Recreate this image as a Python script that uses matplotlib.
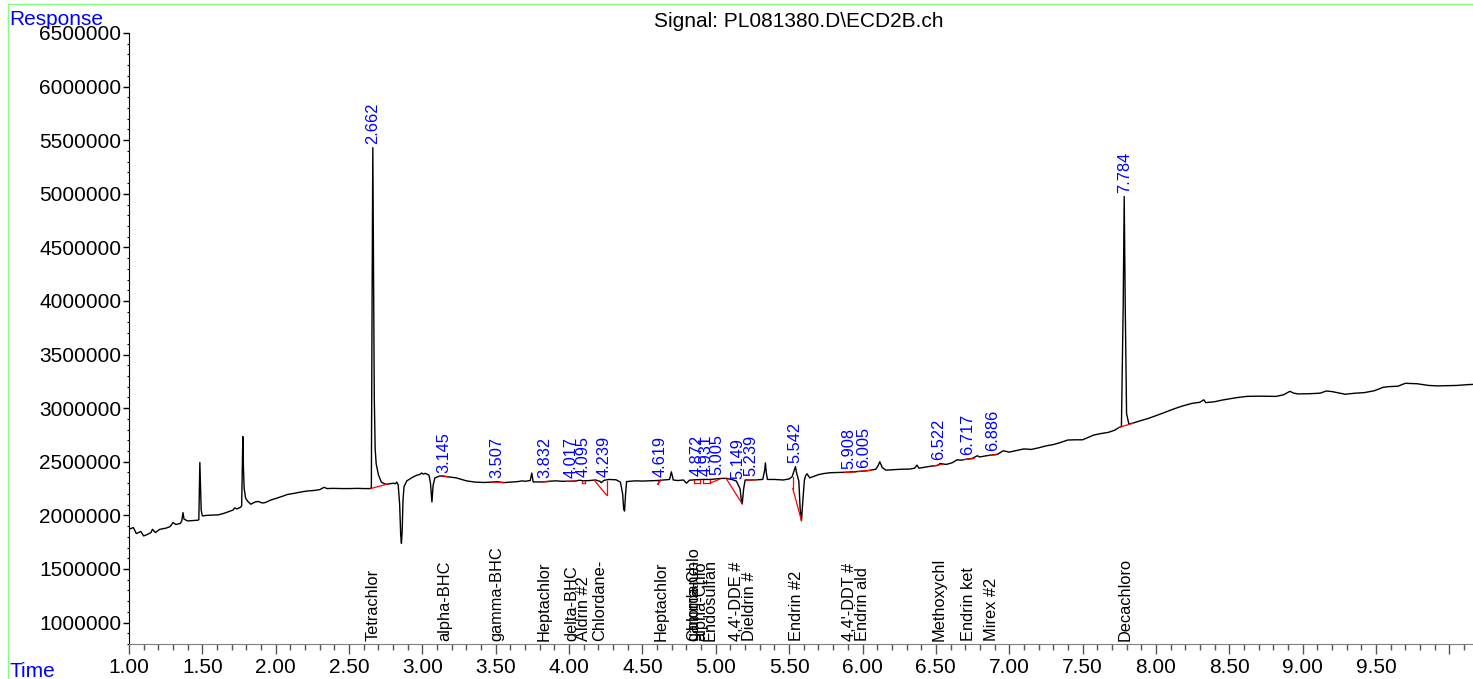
import numpy as np
import matplotlib
matplotlib.use("Agg")
import matplotlib.pyplot as plt
from matplotlib.ticker import MultipleLocator, FixedLocator, FuncFormatter
from matplotlib.lines import Line2D
import matplotlib.transforms as mtransforms

plt.rcParams['font.family'] = ['Liberation Sans', 'DejaVu Sans']

# chromatogram trace (time in min, response)
time_pts = [1.00, 1.03, 1.05, 1.08, 1.10, 1.13, 1.15, 1.16, 1.18, 1.21, 1.25, 1.28, 1.30, 1.32, 1.35, 1.36,
            1.368, 1.375, 1.40, 1.44, 1.47, 1.476, 1.480, 1.483, 1.487, 1.492, 1.50, 1.53, 1.57, 1.61, 1.65,
            1.68, 1.71, 1.72, 1.735, 1.76, 1.768, 1.772, 1.776, 1.780, 1.785, 1.795, 1.81, 1.83, 1.86, 1.88,
            1.91, 1.93, 1.97, 2.00, 2.05, 2.08, 2.12, 2.18, 2.22, 2.26, 2.30, 2.33, 2.35, 2.39, 2.45, 2.50,
            2.56, 2.60, 2.645, 2.652, 2.657, 2.662, 2.667, 2.672, 2.678, 2.685, 2.70, 2.72, 2.75, 2.78, 2.80,
            2.815, 2.825, 2.835, 2.845, 2.852, 2.857, 2.862, 2.868, 2.875, 2.894, 2.93, 2.962, 2.98, 2.995,
            3.005, 3.02, 3.045, 3.055, 3.065, 3.073, 3.085, 3.12, 3.16, 3.23, 3.30, 3.36, 3.417, 3.47, 3.51,
            3.55, 3.60, 3.65, 3.68, 3.70, 3.735, 3.746, 3.755, 3.78, 3.82, 3.86, 3.91, 3.95, 4.00, 4.04, 4.07,
            4.10, 4.14, 4.18, 4.21, 4.22, 4.235, 4.25, 4.27, 4.32, 4.35, 4.365, 4.372, 4.378, 4.385, 4.392,
            4.43, 4.46, 4.50, 4.55, 4.60, 4.64, 4.685, 4.697, 4.71, 4.74, 4.78, 4.80, 4.82, 4.86, 4.91, 4.96,
            5.00, 5.04, 5.07, 5.11, 5.14, 5.165, 5.175, 5.18, 5.19, 5.20, 5.24, 5.28, 5.32, 5.333, 5.338,
            5.344, 5.352, 5.40, 5.46, 5.50, 5.52, 5.535, 5.543, 5.55, 5.566, 5.575, 5.584, 5.594, 5.604,
            5.612, 5.622, 5.64, 5.70, 5.735, 5.78, 5.83, 5.88, 5.92, 5.98, 6.03, 6.07, 6.09, 6.105, 6.118,
            6.135, 6.16, 6.20, 6.26, 6.32, 6.355, 6.371, 6.385, 6.42, 6.48, 6.51, 6.53, 6.57, 6.61, 6.646,
            6.67, 6.70, 6.75, 6.782, 6.80, 6.84, 6.89, 6.92, 6.96, 7.00, 7.05, 7.10, 7.15, 7.20, 7.253, 7.30,
            7.35, 7.40, 7.45, 7.50, 7.576, 7.62, 7.675, 7.72, 7.75, 7.765, 7.777, 7.784, 7.791, 7.80, 7.815,
            7.837, 7.90, 7.95, 8.00, 8.06, 8.12, 8.18, 8.247, 8.30, 8.326, 8.34, 8.40, 8.45, 8.496, 8.56,
            8.62, 8.70, 8.82, 8.87, 8.913, 8.94, 8.97, 9.05, 9.12, 9.16, 9.20, 9.29, 9.36, 9.42, 9.49, 9.55,
            9.59, 9.65, 9.70, 9.78, 9.86, 9.92, 9.98, 10.05, 10.13, 10.17]
resp_pts = [1871000, 1886000, 1830000, 1850000, 1808000, 1825000, 1840000, 1870000, 1840000, 1870000,
            1880000, 1895000, 1933000, 1915000, 1925000, 1950000, 2026000, 1965000, 1948000, 1952000,
            1955000, 1960000, 2300000, 2493000, 2300000, 2050000, 1995000, 2000000, 2003000, 2005000,
            2020000, 2035000, 2050000, 2070000, 2060000, 2075000, 2090000, 2400000, 2735000, 2450000,
            2250000, 2160000, 2130000, 2104000, 2125000, 2130000, 2115000, 2120000, 2145000, 2157000,
            2180000, 2195000, 2204000, 2220000, 2228000, 2232000, 2240000, 2262000, 2250000, 2252000,
            2250000, 2250000, 2252000, 2250000, 2250000, 2260000, 4000000, 5430000, 4200000, 3100000,
            2620000, 2480000, 2380000, 2310000, 2290000, 2295000, 2300000, 2295000, 2310000, 2285000,
            2100000, 1820000, 1740000, 1850000, 2150000, 2270000, 2322000, 2353000, 2375000, 2380000,
            2395000, 2385000, 2392000, 2375000, 2300000, 2125000, 2280000, 2350000, 2368000, 2362000,
            2350000, 2322000, 2310000, 2307000, 2310000, 2315000, 2305000, 2310000, 2315000, 2322000,
            2318000, 2325000, 2394000, 2312000, 2312000, 2312000, 2318000, 2322000, 2318000, 2318000,
            2320000, 2328000, 2322000, 2325000, 2330000, 2318000, 2305000, 2325000, 2330000, 2335000,
            2332000, 2310000, 2200000, 2060000, 2040000, 2200000, 2315000, 2320000, 2322000, 2320000,
            2322000, 2325000, 2330000, 2335000, 2406000, 2330000, 2325000, 2330000, 2300000, 2328000,
            2332000, 2335000, 2335000, 2340000, 2345000, 2345000, 2335000, 2320000, 2250000, 2130000,
            2108000, 2250000, 2330000, 2330000, 2332000, 2335000, 2420000, 2490000, 2400000, 2335000,
            2335000, 2330000, 2340000, 2360000, 2420000, 2455000, 2400000, 2320000, 2060000, 1950000,
            2150000, 2330000, 2370000, 2388000, 2350000, 2380000, 2390000, 2398000, 2400000, 2402000,
            2405000, 2410000, 2416000, 2425000, 2430000, 2460000, 2500000, 2445000, 2422000, 2425000,
            2430000, 2432000, 2440000, 2469000, 2440000, 2448000, 2462000, 2465000, 2484000, 2475000,
            2490000, 2519000, 2515000, 2522000, 2532000, 2556000, 2545000, 2555000, 2565000, 2570000,
            2603000, 2590000, 2605000, 2620000, 2615000, 2630000, 2649000, 2660000, 2680000, 2703000,
            2705000, 2705000, 2749000, 2762000, 2774000, 2795000, 2821000, 2830000, 3950000, 4975000,
            3950000, 2950000, 2855000, 2858000, 2885000, 2905000, 2930000, 2960000, 2992000, 3020000,
            3045000, 3055000, 3078000, 3052000, 3060000, 3075000, 3086000, 3100000, 3110000, 3112000,
            3110000, 3125000, 3157000, 3140000, 3133000, 3135000, 3140000, 3160000, 3155000, 3130000,
            3140000, 3145000, 3163000, 3195000, 3201000, 3205000, 3232000, 3228000, 3212000, 3208000,
            3210000, 3212000, 3220000, 3222000]

# integration baselines (red), one segment each
seg_t0 = [2.648, 3.13, 3.47, 3.81, 3.98, 4.085, 4.085, 4.11, 4.17, 4.255, 4.603, 4.603,
          4.85, 4.85, 4.89, 4.91, 4.91, 4.96, 4.96, 5.07, 5.21, 5.525, 5.525, 5.88, 5.97,
          6.48, 6.69, 6.87, 7.748]
seg_v0 = [2250000, 2370000, 2310000, 2312000, 2318000, 2322000, 2300000, 2300000, 2330000, 2190000,
          2290000, 2290000, 2300000, 2300000, 2300000, 2300000, 2300000, 2300000, 2300000, 2345000,
          2330000, 2360000, 2250000, 2400000, 2410000, 2460000, 2520000, 2562000, 2820000]
seg_t1 = [2.755, 3.17, 3.55, 3.86, 4.05, 4.085, 4.11, 4.11, 4.255, 4.255, 4.603, 4.625,
          4.85, 4.89, 4.89, 4.91, 4.96, 4.96, 5.03, 5.18, 5.28, 5.525, 5.584, 5.95, 6.06,
          6.55, 6.76, 6.91, 7.84]
seg_v1 = [2290000, 2362000, 2308000, 2314000, 2320000, 2300000, 2300000, 2325000, 2190000, 2325000,
          2322000, 2325000, 2330000, 2300000, 2332000, 2333000, 2300000, 2333000, 2340000, 2108000,
          2332000, 2250000, 1950000, 2405000, 2420000, 2478000, 2530000, 2565000, 2858000]

# retention times found, and compound names at their expected times
peak_rt = [2.662, 3.145, 3.507, 3.832, 4.017, 4.095, 4.239, 4.619, 4.872, 4.931, 5.005, 5.149,
           5.239, 5.542, 5.908, 6.005, 6.522, 6.717, 6.886, 7.784]
name_rt = [2.664, 3.155, 3.51, 3.83, 4.02, 4.10, 4.21, 4.63, 4.85, 4.85, 4.90, 4.96, 5.14, 5.23,
           5.55, 5.91, 6.00, 6.52, 6.72, 6.88, 7.79]
names = ["Tetrachlor", "alpha-BHC", "gamma-BHC", "Heptachlor", "delta-BHC", "Aldrin #2", "Chlordane-",
         "Heptachlor", "Chlordane-", "gamma-Chlo", "alpha-Chlo", "Endosulfan", "4,4'-DDE #", "Dieldrin #",
         "Endrin #2", "4,4'-DDT #", "Endrin ald", "Methoxychl", "Endrin ket", "Mirex #2", "Decachloro"]

W, H = 1473, 679
fig = plt.figure(figsize=(W / 100, H / 100), dpi=100)
ax = fig.add_axes([129 / W, 1 - 644 / H, (W - 129) / W, (644 - 33) / H])

t = np.array(time_pts)
r = np.array(resp_pts)
ax.plot(t, r, color='black', lw=1.0)

for a, b, c, d in zip(seg_t0, seg_v0, seg_t1, seg_v1):
    ax.plot([a, c], [b, d], color='red', lw=0.9)

grid = np.linspace(1.0, 10.17, 20000)
sig = np.interp(grid, t, r)
for rt in peak_rt:
    m = np.abs(grid - rt) < 0.006
    top = max(sig[m].max(), np.interp(rt, t, r))
    ax.annotate(f"{rt:.3f}", xy=(rt, top), xytext=(0, 2.5), textcoords='offset points',
                rotation=90, ha='center', va='bottom', color='blue', fontsize=11.8)

trans = mtransforms.blended_transform_factory(ax.transData, ax.transAxes)
for rt, nm in zip(name_rt, names):
    ax.annotate(nm, xy=(rt, 0), xycoords=trans, xytext=(0, 2), textcoords='offset points',
                rotation=90, ha='center', va='bottom', color='black', fontsize=11.8)

ax.set_xlim(1.0, 1.0 + (W - 129) / 146.7)
ax.set_ylim(800000, 6500000)

ax.xaxis.set_major_locator(MultipleLocator(0.5))
ax.xaxis.set_minor_locator(MultipleLocator(0.1))
ax.xaxis.set_major_formatter(FuncFormatter(lambda v, p: "" if v > 9.9 else f"{v:.2f}"))
ax.yaxis.set_major_locator(FixedLocator(np.arange(1000000, 6500001, 500000)))
ax.yaxis.set_minor_locator(MultipleLocator(100000))
ax.yaxis.set_major_formatter(FuncFormatter(lambda v, p: f"{int(v)}"))

ax.tick_params(axis='x', which='major', length=7, width=1, color='#555555', labelsize=15, pad=3)
ax.tick_params(axis='x', which='minor', length=4, width=1, color='#555555')
ax.tick_params(axis='y', which='major', length=4.5, width=1, labelsize=15, pad=1)
ax.tick_params(axis='y', which='minor', length=1.5, width=0.8)

for s in ['top', 'right']:
    ax.spines[s].set_visible(False)
ax.spines['bottom'].set_color('#808080')
ax.spines['left'].set_color('black')

fig.text(799 / W, 1 - 27 / H, "Signal: PL081380.D\\ECD2B.ch", ha='center', va='baseline', fontsize=15)
fig.text(9 / W, 1 - 25 / H, "Response", ha='left', va='baseline', color='blue', fontsize=15)
fig.text(9 / W, 1 - 677 / H, "Time", ha='left', va='baseline', color='blue', fontsize=15)

fig.add_artist(Line2D([8 / W, 8 / W], [0, 1 - 4 / H], color='#80ff80', lw=1))
fig.add_artist(Line2D([8 / W, 1], [1 - 4 / H, 1 - 4 / H], color='#80ff80', lw=1))

fig.savefig("out.png", dpi=100)
